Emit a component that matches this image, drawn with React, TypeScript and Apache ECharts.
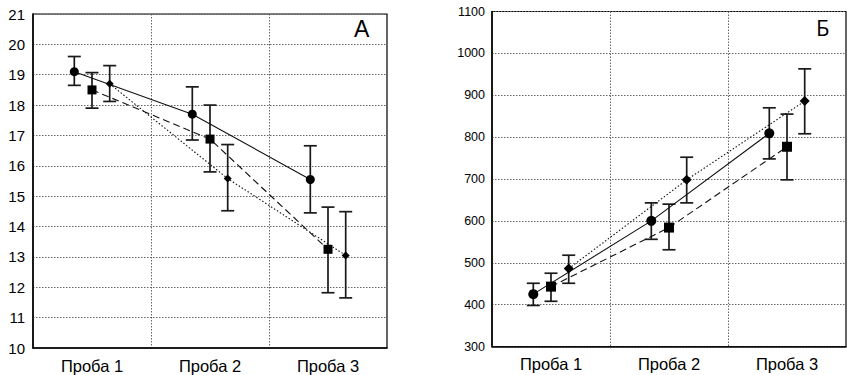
import React, { useEffect, useRef } from "react";
import * as echarts from "echarts";

const categories = ["Проба 1", "Проба 2", "Проба 3"];

// Panel А
const aYTicks = { min: 10, max: 21, interval: 1 };
const aMean1 = [19.1, 17.7, 15.55];
const aLow1 = [18.65, 16.85, 14.45];
const aHigh1 = [19.6, 18.6, 16.66];
const aMean2 = [18.5, 16.88, 13.25];
const aLow2 = [17.9, 15.8, 11.82];
const aHigh2 = [19.07, 18.0, 14.64];
const aMean3 = [18.7, 15.58, 13.05];
const aLow3 = [18.12, 14.52, 11.65];
const aHigh3 = [19.3, 16.7, 14.49];

// Panel Б
const bYTicks = { min: 300, max: 1100, interval: 100 };
const bMean1 = [425, 600, 809];
const bLow1 = [398, 556, 748];
const bHigh1 = [451, 643, 870];
const bMean2 = [443, 584, 777];
const bLow2 = [408, 531, 698];
const bHigh2 = [475, 640, 855];
const bMean3 = [486, 698, 886];
const bLow3 = [451, 643, 808];
const bHigh3 = [518, 752, 963];

const SHIFT = [-0.15, 0, 0.15];

function pts(mean: number[], s: number) {
  return mean.map((v, i) => [i + 0.5 + SHIFT[s], v]);
}
function errs(low: number[], high: number[], s: number) {
  return low.map((l, i) => [i + 0.5 + SHIFT[s], l, high[i]]);
}

const errRender = (params: any, api: any) => {
  const x = api.value(0);
  const p1 = api.coord([x, api.value(1)]);
  const p2 = api.coord([x, api.value(2)]);
  const w = 6.5;
  const st = { stroke: "#1a1a1a", lineWidth: 1.7 };
  return {
    type: "group",
    children: [
      { type: "line", shape: { x1: p1[0], y1: p1[1], x2: p2[0], y2: p2[1] }, style: st },
      { type: "line", shape: { x1: p1[0] - w, y1: p1[1], x2: p1[0] + w, y2: p1[1] }, style: st },
      { type: "line", shape: { x1: p2[0] - w, y1: p2[1], x2: p2[0] + w, y2: p2[1] }, style: st },
    ],
  };
};

const gridLine = { show: true, lineStyle: { color: "#666", type: [1.5, 1.5] as any, width: 1 } };

export default function App() {
  const ref = useRef<HTMLDivElement>(null);
  useEffect(() => {
    const chart = echarts.init(ref.current!, undefined, { renderer: "svg" });
    const lineStyles: any[] = ["solid", [7, 4], [1.5, 2]];
    const symbols = ["circle", "rect", "diamond"];
    const sizesA = [9, 9, 8];
    const sizesB = [10, 10, 10];

    const series: any[] = [];
    const addPanel = (
      g: number,
      means: number[][],
      lows: number[][],
      highs: number[][],
      sizes: number[]
    ) => {
      for (let s = 0; s < 3; s++) {
        series.push({
          type: "custom",
          xAxisIndex: g * 2 + 1,
          yAxisIndex: g,
          renderItem: errRender,
          data: errs(lows[s], highs[s], s),
          z: 2,
        });
      }
      for (let s = 0; s < 3; s++) {
        series.push({
          type: "line",
          xAxisIndex: g * 2 + 1,
          yAxisIndex: g,
          data: pts(means[s], s),
          symbol: symbols[s],
          symbolSize: sizes[s],
          showSymbol: true,
          itemStyle: { color: "#000" },
          lineStyle: { color: "#111", width: 1.1, type: lineStyles[s] },
          z: 3,
        });
      }
    };
    addPanel(0, [aMean1, aMean2, aMean3], [aLow1, aLow2, aLow3], [aHigh1, aHigh2, aHigh3], sizesA);
    addPanel(1, [bMean1, bMean2, bMean3], [bLow1, bLow2, bLow3], [bHigh1, bHigh2, bHigh3], sizesB);

    const catAxis = (g: number) => ({
      type: "category",
      gridIndex: g,
      data: categories,
      boundaryGap: true,
      axisTick: { show: false },
      axisLine: { show: true, lineStyle: { color: "#000", width: 1.5 } },
      axisLabel: { color: "#000", fontSize: 16.5, fontFamily: "Liberation Sans, Arial", margin: 9 },
      splitLine: gridLine,
    });
    const valX = (g: number) => ({
      type: "value",
      gridIndex: g,
      min: 0,
      max: 3,
      show: false,
      splitLine: { show: false },
    });

    chart.setOption({
      animation: false,
      grid: [
        { left: 33, top: 14, width: 354, height: 334, show: true, borderColor: "#000", borderWidth: 1.2, backgroundColor: "transparent" },
        { left: 492, top: 11.5, width: 354, height: 335, show: true, borderColor: "#000", borderWidth: 1.2, backgroundColor: "transparent" },
      ],
      xAxis: [catAxis(0), valX(0), catAxis(1), valX(1)],
      yAxis: [
        {
          type: "value",
          gridIndex: 0,
          ...aYTicks,
          axisLine: { show: true, lineStyle: { color: "#000", width: 1.5 } },
          axisTick: { show: false },
          axisLabel: { color: "#000", fontSize: 15, fontFamily: "Liberation Sans, Arial", margin: 8, formatter: (v: number) => String(v) },
          splitLine: gridLine,
        },
        {
          type: "value",
          gridIndex: 1,
          ...bYTicks,
          axisLine: { show: true, lineStyle: { color: "#000", width: 1.5 } },
          axisTick: { show: false },
          axisLabel: { color: "#000", fontSize: 12.5, fontFamily: "Liberation Sans, Arial", margin: 7, formatter: (v: number) => String(v) },
          splitLine: gridLine,
        },
      ],
      graphic: [
        { type: "text", left: 354, top: 17, style: { text: "А", fontSize: 23, fill: "#000", fontFamily: "Liberation Sans, Arial" } },
        { type: "text", left: 816, top: 16, style: { text: "Б", fontSize: 22, fill: "#000", fontFamily: "Open Sans, Liberation Sans" } },
      ],
      series,
    });
    return () => chart.dispose();
  }, []);
  return (
    <div
      ref={ref}
      style={{ position: "fixed", left: 0, top: 0, width: 847, height: 375, background: "#fff" }}
    />
  );
}
